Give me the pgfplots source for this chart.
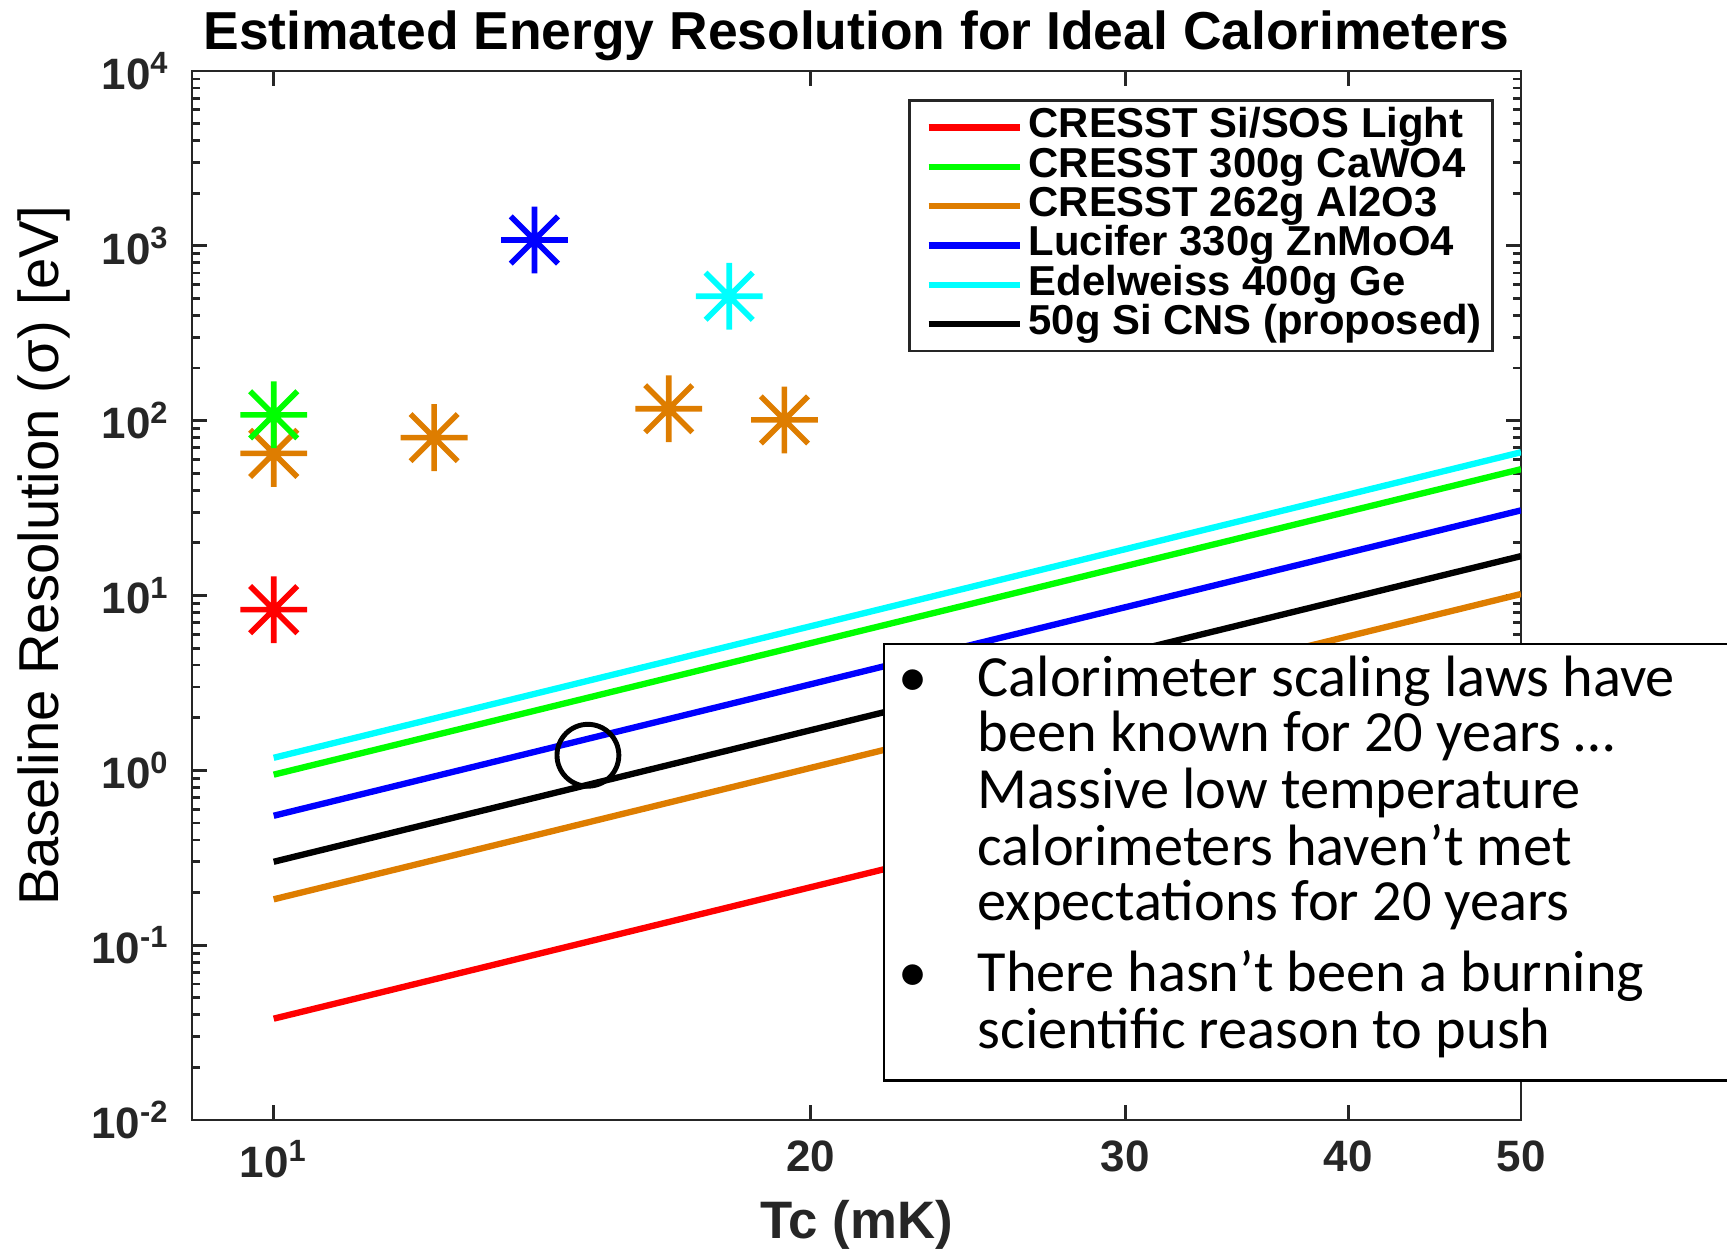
\documentclass[border=0pt]{standalone}
\usepackage{fontspec}
\setmainfont{Liberation Sans}
\newfontfamily\calibri{Carlito}
\usepackage{pgfplots}
\pgfplotsset{compat=1.18}
\definecolor{morange}{rgb}{0.871,0.490,0}
\definecolor{mred}{rgb}{1,0,0}
\definecolor{mgreen}{rgb}{0,1,0}
\definecolor{mblue}{rgb}{0,0,1}
\definecolor{mcyan}{rgb}{0,1,1}
\definecolor{axgray}{rgb}{0.15,0.15,0.15}
\pgfdeclareplotmark{mstar}{%
 \pgfpathmoveto{\pgfqpoint{-\pgfplotmarksize}{0pt}}\pgfpathlineto{\pgfqpoint{\pgfplotmarksize}{0pt}}%
 \pgfpathmoveto{\pgfqpoint{0pt}{-\pgfplotmarksize}}\pgfpathlineto{\pgfqpoint{0pt}{\pgfplotmarksize}}%
 \pgfpathmoveto{\pgfpointpolar{45}{\pgfplotmarksize}}\pgfpathlineto{\pgfpointpolar{225}{\pgfplotmarksize}}%
 \pgfpathmoveto{\pgfpointpolar{135}{\pgfplotmarksize}}\pgfpathlineto{\pgfpointpolar{315}{\pgfplotmarksize}}%
 \pgfusepathqstroke}
\begin{document}
\begin{tikzpicture}
\path[use as bounding box] (0,0) rectangle (17.27,12.49);
\begin{axis}[
 at={(1.92cm,1.29cm)}, anchor=south west,
 scale only axis, width=13.29cm, height=10.49cm,
 xmode=log, ymode=log,
 xmin=9.0, xmax=50, ymin=1e-2, ymax=1e4,
 axis line style={axgray, line width=0.8pt},
 every tick/.style={axgray, line width=0.8pt},
 tick align=inside,
 major tick length=0.15cm, minor tick length=0.08cm,
 xtick={10,20,30,40,50},
 xticklabels={10\textsuperscript{1},20,30,40,50},
 xminorticks=false,
 ytick={1e-2,1e-1,1,10,100,1000,10000},
 yticklabels={10\textsuperscript{-2},10\textsuperscript{-1},10\textsuperscript{0},10\textsuperscript{1},10\textsuperscript{2},10\textsuperscript{3},10\textsuperscript{4}},
 minor ytick={0.02,0.03,0.04,0.05,0.06,0.07,0.08,0.09,0.2,0.3,0.4,0.5,0.6,0.7,0.8,0.9,2,3,4,5,6,7,8,9,20,30,40,50,60,70,80,90,200,300,400,500,600,700,800,900,2000,3000,4000,5000,6000,7000,8000,9000},
 ticklabel style={font=\bfseries\fontsize{12.5}{12.5}\selectfont, text=axgray},
 xticklabel style={anchor=north, inner sep=0pt, yshift=-0.2cm},
 yticklabel style={anchor=east, inner sep=0pt, xshift=-0.22cm},
 xlabel={Tc (mK)},
 xlabel style={at={(rel axis cs:0.5,-0.1125)}, anchor=base, inner sep=0pt, font=\bfseries\fontsize{15}{15}\selectfont, text=axgray},
 ylabel={Baseline Resolution (σ) [eV]},
 ylabel style={at={(rel axis cs:-0.1114,0.538)}, anchor=center, font=\fontsize{16}{16}\selectfont},
 legend style={at={(rel axis cs:0.9795,0.973)}, anchor=north east, draw=axgray, line width=0.8pt, fill=white,
   font=\bfseries\fontsize{11.9}{11.9}\selectfont, inner xsep=3pt, inner ysep=2pt, row sep=0pt, column sep=0.06cm,
   nodes={inner sep=0pt, text height=8.5pt, text depth=2.7pt}},
 legend cell align=left,
 legend image code/.code={\path (0cm,0cm); \draw[#1, line width=1.8pt] (0.05cm,0cm) -- (0.96cm,0cm);},
]
\addplot[mred, line width=1.8pt] coordinates {(10,0.038) (50,2.12)};
\addlegendentry{CRESST Si/SOS Light}
\addplot[mgreen, line width=1.8pt] coordinates {(10,0.945) (50,52.8)};
\addlegendentry{CRESST 300g CaWO4}
\addplot[morange, line width=1.8pt] coordinates {(10,0.183) (50,10.2)};
\addlegendentry{CRESST 262g Al2O3}
\addplot[mblue, line width=1.8pt] coordinates {(10,0.55) (50,30.7)};
\addlegendentry{Lucifer 330g ZnMoO4}
\addplot[mcyan, line width=1.8pt] coordinates {(10,1.18) (50,66)};
\addlegendentry{Edelweiss 400g Ge}
\addplot[black, line width=1.8pt] coordinates {(10,0.30) (50,16.8)};
\addlegendentry{50g Si CNS (proposed)}
% measured points
\addplot[forget plot, only marks, mark=mstar, mark size=9.5pt, mred, line width=1.6pt] coordinates {(10,8.3)};
\addplot[forget plot, only marks, mark=mstar, mark size=9.5pt, morange, line width=1.6pt] coordinates {(10,65) (12.3,80) (16.65,117) (19.33,101)};
\addplot[forget plot, only marks, mark=mstar, mark size=9.5pt, mgreen, line width=1.6pt] coordinates {(10,108)};
\addplot[forget plot, only marks, mark=mstar, mark size=9.5pt, mblue, line width=1.6pt] coordinates {(14,1080)};
\addplot[forget plot, only marks, mark=mstar, mark size=9.5pt, mcyan, line width=1.6pt] coordinates {(18,515)};
\addplot[forget plot, only marks, mark=o, mark size=8.8pt, black, line width=1.4pt] coordinates {(15,1.22)};
\end{axis}
\node[anchor=base, inner sep=0pt, font=\bfseries\fontsize{15.2}{15.2}\selectfont] at (8.565,11.994) {Estimated Energy Resolution for Ideal Calorimeters};
\draw[black, line width=0.6pt, fill=white] (8.843,1.685) rectangle (17.6,6.05);
\begin{scope}[every node/.style={font=\calibri\fontsize{16.6}{16.6}\selectfont, inner sep=0pt}]
\node[anchor=base] at (9.135,5.523) {•};
\node[anchor=base west] at (9.77,5.523) {Calorimeter scaling laws have};
\node[anchor=base west] at (9.77,4.973) {been known for 20 years …};
\node[anchor=base west] at (9.77,4.41) {Massive low temperature};
\node[anchor=base west] at (9.77,3.84) {calorimeters haven’t met};
\node[anchor=base west] at (9.77,3.29) {expectations for 20 years};
\node[anchor=base] at (9.135,2.573) {•};
\node[anchor=base west] at (9.77,2.573) {There hasn’t been a burning};
\node[anchor=base west] at (9.77,2.01) {scientific reason to push};
\end{scope}
\end{tikzpicture}
\end{document}
